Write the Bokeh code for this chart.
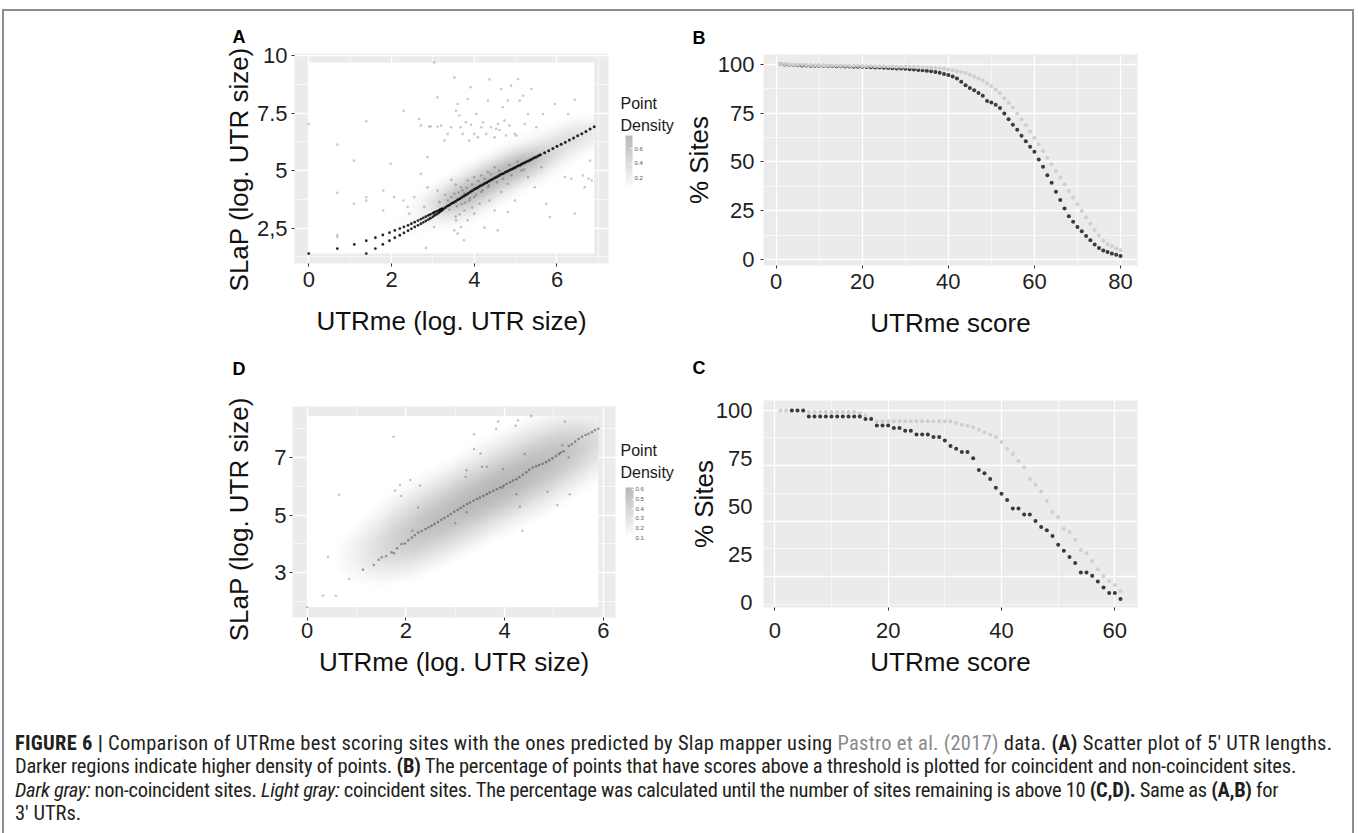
import numpy as np
from bokeh.plotting import figure
from bokeh.models import (Range1d, FixedTicker, LinearColorMapper, ColorBar, Div)
from bokeh.layouts import row, column
from bokeh.embed import file_html
from bokeh.resources import INLINE

# ------------------------------------------------------------------ data
# Panel A: 5' UTR lengths (log), scattered sites (light) and coincident diagonal (dark)
a_x = [0.00, 0.69, 0.69, 0.69, 0.69, 1.09, 1.09, 1.39, 1.39, 1.39, 1.80, 1.80, 1.98, 2.06, 2.29,
       2.29, 2.39, 2.43, 2.55, 2.67, 2.71, 2.71, 2.79, 2.83, 2.87, 2.87, 2.91, 2.95, 3.03, 3.03,
       3.11, 3.11, 3.11, 3.16, 3.20, 3.28, 3.36, 3.36, 3.44, 3.52, 3.52, 3.52, 3.56, 3.56, 3.60,
       3.60, 3.64, 3.67, 3.68, 3.68, 3.72, 3.75, 3.76, 3.76, 3.80, 3.84, 3.84, 3.84, 3.88, 3.88,
       3.91, 3.92, 4.00, 4.00, 4.00, 4.00, 4.05, 4.09, 4.13, 4.17, 4.17, 4.17, 4.21, 4.25, 4.29,
       4.33, 4.33, 4.33, 4.37, 4.37, 4.41, 4.49, 4.49, 4.49, 4.53, 4.57, 4.57, 4.61, 4.65, 4.65,
       4.69, 4.73, 4.77, 4.81, 4.81, 4.81, 4.85, 4.89, 4.98, 4.98, 4.98, 5.02, 5.06, 5.10, 5.14,
       5.14, 5.18, 5.22, 5.30, 5.30, 5.38, 5.46, 5.50, 5.62, 5.66, 5.74, 5.83, 5.95, 6.19, 6.27,
       6.35, 6.43, 6.43, 6.63, 6.67, 6.76, 6.80, 6.84,
       3.40, 3.45, 3.58, 3.62, 3.70, 3.72, 3.78, 3.82, 3.90, 3.95, 4.05, 4.10, 4.20, 4.25, 4.35,
       4.40, 4.55, 4.60, 4.70, 4.85, 4.90, 5.05, 5.20, 3.55, 3.65, 3.95, 3.55, 3.45, 3.30]
a_y = [7.03, 6.14, 4.04, 2.11, 2.21, 5.44, 3.56, 7.15, 3.85, 3.70, 4.14, 3.27, 5.30, 3.85, 7.61,
       3.70, 3.42, 3.13, 3.85, 7.25, 6.96, 4.86, 3.42, 1.64, 5.59, 4.28, 6.92, 6.92, 9.71, 2.55,
       8.19, 6.92, 4.14, 3.63, 6.96, 6.31, 6.60, 3.70, 6.89, 9.06, 4.00, 2.40, 7.61, 2.84, 7.90,
       2.26, 7.40, 6.89, 4.28, 2.55, 6.60, 1.97, 4.00, 3.27, 7.11, 8.12, 4.57, 2.84, 6.31, 3.70,
       8.63, 7.00, 6.60, 4.72, 3.85, 3.13, 7.47, 6.45, 3.56, 6.89, 4.79, 4.07, 7.11, 2.52, 6.60,
       8.05, 4.94, 4.28, 8.97, 3.70, 6.89, 6.45, 5.15, 3.27, 6.82, 7.03, 2.40, 6.77, 8.55, 4.07,
       7.76, 7.18, 6.53, 8.05, 4.43, 3.20, 6.96, 8.70, 6.60, 5.15, 3.70, 6.53, 8.99, 8.05, 5.30,
       5.01, 8.26, 7.03, 7.47, 4.72, 8.55, 4.28, 6.89, 5.15, 7.47, 3.56, 2.98, 7.90, 4.72, 7.47,
       4.65, 8.09, 3.13, 4.79, 4.28, 4.65, 5.44, 4.57,
       3.30, 3.85, 3.45, 4.05, 3.55, 4.15, 3.60, 4.25, 3.80, 4.40, 3.95, 4.55, 4.15, 4.65, 4.35,
       4.85, 4.50, 5.00, 4.65, 5.25, 4.80, 5.40, 5.05, 3.00, 3.10, 3.40, 4.40, 4.60, 3.95]
# short UTRs: discrete lengths forming two rows
a_step_x = [0.00, 0.69, 1.10, 1.39, 1.39, 1.61, 1.61, 1.79, 1.79, 1.95, 1.95, 2.08, 2.08, 2.20,
            2.20, 2.30, 2.30, 2.40, 2.40, 2.48, 2.48, 2.56, 2.56, 2.64, 2.64, 2.71, 2.71, 2.77,
            2.77, 2.83, 2.83, 2.89, 2.89, 2.94, 2.94, 3.00, 3.00, 3.04, 3.04, 3.09, 3.09, 3.14,
            3.14, 3.18, 3.18, 3.22, 3.22]
a_step_y = [1.39, 1.61, 1.79, 1.39, 1.95, 1.61, 2.08, 1.79, 2.20, 1.95, 2.30, 2.08, 2.40, 2.19,
            2.48, 2.29, 2.55, 2.39, 2.62, 2.47, 2.69, 2.55, 2.76, 2.62, 2.83, 2.69, 2.89, 2.75,
            2.95, 2.81, 3.00, 2.87, 3.05, 2.93, 3.10, 2.99, 3.15, 3.05, 3.19, 3.10, 3.23, 3.16,
            3.27, 3.22, 3.31, 3.27, 3.35]
a_line_x = [3.25, 3.30, 3.35, 3.40, 3.45, 3.50, 3.55, 3.60, 3.65, 3.70, 3.75, 3.80, 3.85, 3.90,
            3.95, 4.00, 4.05, 4.10, 4.15, 4.20, 4.25, 4.30, 4.35, 4.40, 4.45, 4.50, 4.55, 4.60,
            4.65, 4.70, 4.75, 4.80, 4.85, 4.90, 4.95, 5.00, 5.05, 5.10, 5.15, 5.20, 5.25, 5.30,
            5.35, 5.40, 5.45, 5.50, 5.55, 5.60, 5.70, 5.80, 5.90, 6.00, 6.10, 6.20, 6.30, 6.40,
            6.50, 6.60, 6.70, 6.80, 6.90]
a_line_y = [3.33, 3.40, 3.46, 3.51, 3.57, 3.62, 3.67, 3.73, 3.78, 3.84, 3.90, 3.95, 4.01, 4.07,
            4.13, 4.19, 4.24, 4.29, 4.34, 4.39, 4.44, 4.49, 4.54, 4.59, 4.64, 4.69, 4.74, 4.79,
            4.84, 4.88, 4.93, 4.97, 5.02, 5.06, 5.11, 5.15, 5.20, 5.24, 5.29, 5.33, 5.38, 5.42,
            5.47, 5.51, 5.56, 5.60, 5.65, 5.69, 5.78, 5.87, 5.96, 6.06, 6.15, 6.24, 6.33, 6.42,
            6.52, 6.61, 6.71, 6.81, 6.91]
a_x_ticks = [0, 2, 4, 6]
a_y_ticks = [2.5, 5, 7.5, 10]
a_y_tick_labels = {2.5: "2,5", 5: "5", 7.5: "7.5", 10: "10"}
a_density_ticks = [0.2, 0.4, 0.6]
a_density_range = (0.05, 0.78)

# Panel B: % sites above a score threshold (5' UTRs)
b_score = list(range(1, 81))
b_dark = [100.0, 99.8, 99.6, 99.5, 99.4, 99.3, 99.3, 99.2, 99.2, 99.1,
          99.1, 99.0, 99.0, 98.9, 98.9, 98.8, 98.8, 98.7, 98.7, 98.6,
          98.5, 98.4, 98.3, 98.2, 98.1, 98.0, 97.9, 97.8, 97.7, 97.6,
          97.4, 97.2, 97.0, 96.8, 96.6, 96.3, 96.0, 95.6, 95.0, 94.4,
          93.6, 92.6, 91.0, 89.2, 87.8, 86.6, 85.2, 83.8, 81.2, 80.4,
          79.2, 77.6, 74.8, 71.8, 69.0, 66.4, 63.4, 60.6, 57.8, 55.2,
          51.2, 47.6, 43.2, 39.4, 34.8, 30.6, 26.2, 22.2, 19.4, 16.8,
          14.6, 12.2, 10.0, 7.8, 6.0, 4.8, 4.0, 3.2, 2.6, 2.0]
b_light = [100.0, 100.0, 99.8, 99.7, 99.6, 99.6, 99.5, 99.5, 99.4, 99.4,
           99.4, 99.3, 99.3, 99.3, 99.2, 99.2, 99.2, 99.1, 99.1, 99.0,
           99.0, 99.0, 98.9, 98.9, 98.9, 98.8, 98.8, 98.7, 98.7, 98.6,
           98.6, 98.5, 98.4, 98.3, 98.2, 98.1, 98.0, 97.8, 97.6, 97.3,
           96.9, 96.4, 95.9, 95.4, 94.6, 93.6, 92.6, 91.6, 90.2, 88.8,
           87.0, 85.2, 82.6, 80.2, 77.8, 74.8, 71.8, 68.8, 65.6, 62.4,
           59.0, 55.6, 52.2, 48.8, 45.4, 42.0, 38.6, 35.2, 31.8, 28.4,
           25.0, 21.6, 18.4, 15.2, 12.4, 9.9, 8.0, 6.9, 5.8, 4.9]
b_x_ticks = [0, 20, 40, 60, 80]
pct_ticks = [0, 25, 50, 75, 100]

# Panel C: % sites above a score threshold (3' UTRs)
c_score = list(range(1, 62))
c_light = [100.0, 100.0, 100.0, 100.0, 100.0, 99.2, 99.2, 99.2, 99.2, 99.2,
           99.2, 99.2, 99.2, 99.2, 98.6, 97.4, 96.0, 94.4, 94.4, 94.4,
           94.4, 94.4, 94.4, 94.4, 94.4, 94.4, 94.4, 94.4, 94.4, 94.4,
           94.4, 93.4, 92.6, 92.0, 91.3, 90.0, 88.7, 87.3, 86.1, 83.5,
           80.0, 77.3, 73.6, 70.4, 64.3, 61.2, 57.7, 52.8, 47.0, 44.4,
           38.3, 36.6, 32.6, 27.2, 25.5, 21.5, 17.1, 13.6, 11.0, 8.9, 5.8]
c_dark_score = list(range(3, 62))
c_dark = [100.0, 100.0, 100.0, 96.9, 96.9, 96.9, 96.9, 96.9, 96.9, 96.9,
          96.9, 96.9, 96.9, 95.5, 95.5, 92.2, 92.2, 92.2, 90.8, 90.8,
          89.4, 89.4, 87.5, 87.5, 87.5, 86.1, 86.1, 84.3, 81.4, 80.0,
          78.3, 78.3, 75.1, 69.0, 67.3, 64.3, 59.7, 56.5, 53.3, 48.8,
          48.8, 45.7, 45.7, 42.3, 39.2, 37.5, 34.5, 29.9, 26.8, 23.5,
          20.4, 15.5, 15.5, 13.8, 10.8, 7.7, 4.8, 4.8, 1.6]
c_x_ticks = [0, 20, 40, 60]
# horizontal guide lines of panel C as printed (they do not sit on the labels)
c_grid_major = [100, 71.3, 42.2, 13.4]
c_grid_minor = [85.7, 56.8, 27.8, -1.1]

# Panel D: 3' UTR lengths (log)
d_x = [0.00, 0.32, 0.58, 0.42, 0.65, 0.85, 1.75, 1.78, 1.88, 1.90, 2.09, 2.13, 2.25, 2.29, 3.00,
       3.21, 3.23, 3.23, 3.38, 3.38, 3.51, 3.54, 3.64, 3.83, 3.87, 3.96, 3.97, 4.22, 4.27, 4.24,
       4.31, 4.36, 4.41, 4.54, 4.87, 5.07, 5.17, 5.22, 5.30, 5.32]
d_y = [1.81, 2.21, 2.21, 3.56, 5.71, 2.79, 7.72, 5.85, 6.05, 5.67, 6.22, 4.46, 5.27, 6.02, 4.72,
       6.33, 6.56, 5.10, 7.81, 7.29, 7.14, 6.68, 6.68, 8.00, 8.25, 5.96, 6.60, 8.10, 8.29, 5.73,
       5.30, 4.46, 7.12, 8.44, 5.81, 5.35, 7.43, 8.25, 7.00, 5.73]
d_line_x = [1.13, 1.35, 1.45, 1.51, 1.60, 1.71, 1.76, 1.82, 1.91, 1.98, 2.05, 2.12, 2.18, 2.25,
            2.32, 2.40, 2.46, 2.52, 2.58, 2.65, 2.72, 2.78, 2.85, 2.91, 2.98, 3.05, 3.11, 3.17,
            3.24, 3.30, 3.37, 3.44, 3.50, 3.57, 3.64, 3.70, 3.77, 3.84, 3.91, 3.98, 4.04, 4.11,
            4.17, 4.24, 4.30, 4.37, 4.44, 4.50, 4.57, 4.64, 4.70, 4.77, 4.84, 4.90, 4.97, 5.04,
            5.10, 5.14, 5.20, 5.30, 5.36, 5.43, 5.50, 5.57, 5.64, 5.70, 5.77, 5.83, 5.90]
d_line_y = [3.11, 3.27, 3.45, 3.54, 3.58, 3.71, 3.68, 3.85, 4.00, 4.02, 4.13, 4.22, 4.30, 4.40,
            4.45, 4.52, 4.58, 4.63, 4.69, 4.76, 4.84, 4.90, 4.97, 5.04, 5.12, 5.18, 5.25, 5.32,
            5.39, 5.44, 5.50, 5.56, 5.61, 5.67, 5.73, 5.79, 5.85, 5.90, 5.96, 6.02, 6.08, 6.14,
            6.20, 6.25, 6.32, 6.40, 6.49, 6.57, 6.65, 6.70, 6.74, 6.78, 6.84, 6.90, 6.97, 7.05,
            7.12, 7.17, 7.22, 7.40, 7.46, 7.55, 7.64, 7.72, 7.78, 7.82, 7.88, 7.95, 8.00]
d_x_ticks = [0, 2, 4, 6]
d_y_ticks = [3, 5, 7]
d_density_ticks = [0.1, 0.2, 0.3, 0.4, 0.5, 0.6]
d_density_range = (0.1, 0.62)

legend_title = "Point\nDensity"
size_axis_title = "SLaP (log. UTR size)"
caption_lines = [
    '<b>FIGURE 6 |</b> Comparison of UTRme best scoring sites with the ones predicted by Slap mapper using '
    '<span style="color:#8a8a8a">Pastro et al. (2017)</span> data. <b>(A)</b> Scatter plot of 5&#8242; UTR lengths.',
    'Darker regions indicate higher density of points. <b>(B)</b> The percentage of points that have scores '
    'above a threshold is plotted for coincident and non-coincident sites.',
    '<i>Dark gray:</i> non-coincident sites. <i>Light gray:</i> coincident sites. The percentage was calculated '
    'until the number of sites remaining is above 10 <b>(C,D).</b> Same as <b>(A,B)</b> for',
    '3&#8242; UTRs.',
]
caption_spacing = [0.27, -0.2, -0.32, 0.0]   # letter spacing (px) per printed line

# ------------------------------------------------------------------ helpers
FONT = "Liberation Sans"
FRAME_COLOR = "#8e8e8e"
DARK = "#3a3a3a"
LIGHT = "#cfcfcf"
NBSP = "\u00a0"


def gray_palette(lo, hi, n=256):
    return ["#%02x%02x%02x" % (v, v, v) for v in np.linspace(lo, hi, n).round().astype(int)]


def kde2d(xs, ys, ws, gx, gy, h):
    X, Y = np.meshgrid(gx, gy)
    d = np.zeros_like(X)
    for x, y, w in zip(xs, ys, ws):
        d += w * np.exp(-0.5 * (((X - x) / h) ** 2 + ((Y - y) / h) ** 2))
    return d / (2 * np.pi * h * h * np.sum(ws))


def make_fig(w, h, xr, yr, ml, mr, mt, mb):
    p = figure(width=w, height=h, x_range=Range1d(*xr), y_range=Range1d(*yr),
               output_backend="svg", toolbar_location=None,
               min_border_left=ml, min_border_right=mr, min_border_top=mt, min_border_bottom=mb)
    p.background_fill_color = "#EBEBEB"
    p.border_fill_color = "white"
    p.outline_line_color = None
    for ax in (p.xaxis[0], p.yaxis[0]):
        ax.axis_line_color = None
        ax.major_tick_line_color = "#333333"
        ax.major_tick_out = 3
        ax.major_tick_in = 0
        ax.minor_tick_line_color = None
        ax.major_label_text_font = FONT
        ax.major_label_text_font_size = "22px"
        ax.major_label_text_color = "#1f1f1f"
        ax.axis_label_text_font = FONT
        ax.axis_label_text_font_size = "26px"
        ax.axis_label_text_font_style = "normal"
        ax.axis_label_text_color = "#111111"
    for g in (p.xgrid[0], p.ygrid[0]):
        g.grid_line_color = "white"
        g.grid_line_width = 1.3
        g.minor_grid_line_color = "white"
        g.minor_grid_line_width = 0.6
    return p


def float_text(p, text, vx, vy, size="16px", style="normal", color="#1a1a1a"):
    """Free text outside the data frame, anchored (bottom-left) relative to the frame."""
    p.add_layout(ColorBar(color_mapper=LinearColorMapper(palette=["#ffffff"], low=0, high=1),
                          orientation="horizontal",
                          location=(vx, vy), width=1, height=1, padding=0, margin=0,
                          scale_alpha=0, ticker=FixedTicker(ticks=[]),
                          major_label_text_alpha=0, major_tick_line_color=None,
                          minor_tick_line_color=None, bar_line_color=None,
                          border_line_color=None, background_fill_alpha=0,
                          title=text, title_standoff=0, title_text_font=FONT,
                          title_text_font_size=size, title_text_font_style=style,
                          title_text_color=color, title_text_line_height=1.3))


def density_bar(p, mapper, ticks, vx, vy, w, h):
    p.add_layout(ColorBar(color_mapper=mapper, location=(vx, vy), width=w, height=h,
                          padding=0, margin=0, ticker=FixedTicker(ticks=ticks),
                          major_label_text_font_size="6px", major_label_text_color="#555555",
                          major_label_text_font=FONT, major_tick_line_color="white",
                          major_tick_out=0, major_tick_in=2, label_standoff=2,
                          bar_line_color=None, border_line_color=None, background_fill_alpha=0))


def rule_div(w, h, inner):
    return Div(width=w, height=h, text=inner, margin=0)


def minor_between(ticks):
    step = ticks[1] - ticks[0]
    return [(a + b) / 2 for a, b in zip(ticks[:-1], ticks[1:])] + [ticks[-1] + step / 2, ticks[0] - step / 2]


# ------------------------------------------------------------------ panel A
pA = make_fig(674, 338, (-0.345, 7.245), (0.96, 10.1), 290, 70, 41, 87)
pA.xaxis.ticker = FixedTicker(ticks=a_x_ticks, minor_ticks=minor_between(a_x_ticks))
pA.yaxis.ticker = FixedTicker(ticks=a_y_ticks, minor_ticks=minor_between(a_y_ticks))
pA.yaxis.major_label_overrides = a_y_tick_labels
pA.xaxis.axis_label = "UTRme (log. UTR size)"
pA.yaxis.axis_label = size_axis_title + NBSP * 3
pA.xaxis.major_label_standoff = 4
pA.xaxis.axis_label_standoff = 16
pA.yaxis.major_label_standoff = 3
pA.yaxis.axis_label_standoff = 0

allAx, allAy = a_x + a_step_x + a_line_x, a_y + a_step_y + a_line_y
ax0, ax1, ay0, ay1 = min(allAx), max(allAx), min(allAy), max(allAy)
wA = [1.0] * len(a_x) + [1.0] * len(a_step_x) + [10.0] * len(a_line_x)
densA = kde2d(allAx, allAy, wA, np.linspace(ax0, ax1, 160), np.linspace(ay0, ay1, 190), 0.42)
densA = densA / densA.max() * a_density_range[1]
mapA = LinearColorMapper(palette=gray_palette(255, 184), low=a_density_range[0], high=a_density_range[1])
pA.image(image=[densA], x=ax0, y=ay0, dw=ax1 - ax0, dh=ay1 - ay0, color_mapper=mapA)
pA.scatter(a_x, a_y, size=2.6, fill_color="black", fill_alpha=0.22, line_color=None)
pA.scatter(a_step_x, a_step_y, size=2.8, fill_color="black", fill_alpha=0.85, line_color=None)
pA.scatter(a_line_x, a_line_y, size=3.0, fill_color="black", fill_alpha=0.85, line_color=None)
density_bar(pA, mapA, a_density_ticks, 331, 75, 7, 53)
float_text(pA, legend_title, 326, 128)
float_text(pA, "A", -62, 216, size="18px", style="bold", color="#000000")

# ------------------------------------------------------------------ panel B
pB = make_fig(674, 338, (-2.95, 83.95), (-2.9, 104.9), 85, 215, 42, 85)
pB.xaxis.ticker = FixedTicker(ticks=b_x_ticks, minor_ticks=minor_between(b_x_ticks))
pB.yaxis.ticker = FixedTicker(ticks=pct_ticks, minor_ticks=minor_between(pct_ticks))
pB.xaxis.axis_label = "UTRme score"
pB.yaxis.axis_label = "% Sites"
pB.xaxis.major_label_standoff = 4
pB.xaxis.axis_label_standoff = 16
pB.yaxis.major_label_standoff = 5
pB.yaxis.axis_label_standoff = 1
pB.scatter(b_score, b_dark, size=4, fill_color=DARK, line_color=None)
pB.scatter(b_score, b_light, size=4, fill_color=LIGHT, line_color=None)
float_text(pB, "B", -71, 217, size="18px", style="bold", color="#000000")

# ------------------------------------------------------------------ panel D
pD = make_fig(674, 382, (-0.2975, 6.2475), (1.45, 8.77), 288, 63, 56, 115)
pD.xaxis.ticker = FixedTicker(ticks=d_x_ticks, minor_ticks=minor_between(d_x_ticks))
pD.yaxis.ticker = FixedTicker(ticks=d_y_ticks, minor_ticks=minor_between(d_y_ticks))
pD.xaxis.axis_label = "UTRme (log. UTR size)"
pD.yaxis.axis_label = size_axis_title + NBSP * 2
pD.xaxis.major_label_standoff = 1
pD.xaxis.axis_label_standoff = 6
pD.yaxis.major_label_standoff = 2
pD.yaxis.axis_label_standoff = 17

allDx, allDy = d_x + d_line_x, d_y + d_line_y
dx0, dx1, dy0, dy1 = min(allDx), max(allDx), min(allDy), max(allDy)
wD = [1.0] * len(d_x) + [4.0] * len(d_line_x)
densD = kde2d(allDx, allDy, wD, np.linspace(dx0, dx1, 150), np.linspace(dy0, dy1, 170), 0.7)
densD = densD / densD.max() * d_density_range[1]
mapD = LinearColorMapper(palette=gray_palette(255, 184), low=d_density_range[0], high=d_density_range[1])
pD.image(image=[densD], x=dx0, y=dy0, dw=dx1 - dx0, dh=dy1 - dy0, color_mapper=mapD)
pD.scatter(d_x, d_y, size=2.4, fill_color="black", fill_alpha=0.25, line_color=None)
pD.scatter(d_line_x, d_line_y, size=2.6, fill_color="black", fill_alpha=0.35, line_color=None)
density_bar(pD, mapD, d_density_ticks, 333, 80, 8, 50)
float_text(pD, legend_title, 328, 135)
float_text(pD, "D", -60, 238, size="18px", style="bold", color="#000000")

# ------------------------------------------------------------------ panel C
pC = make_fig(674, 382, (-2.0, 64.0), (-2.8, 105.2), 85, 215, 50, 125)
pC.xaxis.ticker = FixedTicker(ticks=c_x_ticks, minor_ticks=minor_between(c_x_ticks))
pC.yaxis.ticker = FixedTicker(ticks=pct_ticks)
pC.ygrid.ticker = FixedTicker(ticks=c_grid_major, minor_ticks=c_grid_minor)
pC.yaxis.major_tick_line_color = None
pC.xaxis.axis_label = "UTRme score"
pC.yaxis.axis_label = "% Sites"
pC.xaxis.major_label_standoff = 11
pC.xaxis.axis_label_standoff = 6
pC.yaxis.major_label_standoff = 8
pC.yaxis.axis_label_standoff = -6
pC.scatter(c_score, c_light, size=4, fill_color=LIGHT, line_color=None)
pC.scatter(c_dark_score, c_dark, size=4, fill_color=DARK, line_color=None)
float_text(pC, "C", -71, 229, size="18px", style="bold", color="#000000")

# ------------------------------------------------------------------ page frame + caption
top_rule = rule_div(1358, 12,
    '<div style="padding:9px 0 0 2px;"><div style="width:1352px;height:3px;box-sizing:border-box;'
    'border-top:2px solid %s;border-left:2px solid %s;border-right:2px solid %s;"></div></div>'
    % (FRAME_COLOR, FRAME_COLOR, FRAME_COLOR))


def left_rule(h):
    return rule_div(4, h, '<div style="margin-left:2px;width:2px;height:%dpx;background:%s;"></div>'
                    % (h, FRAME_COLOR))


def right_rule(h):
    return rule_div(6, h, '<div style="width:2px;height:%dpx;background:%s;"></div>' % (h, FRAME_COLOR))


cap_body = "".join('<div style="letter-spacing:%spx;">%s</div>' % (ls, ln)
                   for ls, ln in zip(caption_spacing, caption_lines))
cap_html = (
    '<div style="margin:0 0 0 2px;width:1352px;height:101px;box-sizing:border-box;'
    'border-left:2px solid %s;border-right:2px solid %s;padding:0 0 0 11px;'
    'font-family:\'Roboto Condensed\',\'Liberation Sans Narrow\',\'Liberation Sans\',sans-serif;'
    'font-size:20.5px;line-height:23.4px;color:#231f20;white-space:nowrap;">%s</div>'
    % (FRAME_COLOR, FRAME_COLOR, cap_body)
)
caption = Div(text=cap_html, width=1358, height=101, margin=0)

layout = column(top_rule,
                row(left_rule(338), column(pA), column(pB), right_rule(338)),
                row(left_rule(382), column(pD), column(pC), right_rule(382)),
                caption)
open("out.html", "w").write(file_html(layout, INLINE))
